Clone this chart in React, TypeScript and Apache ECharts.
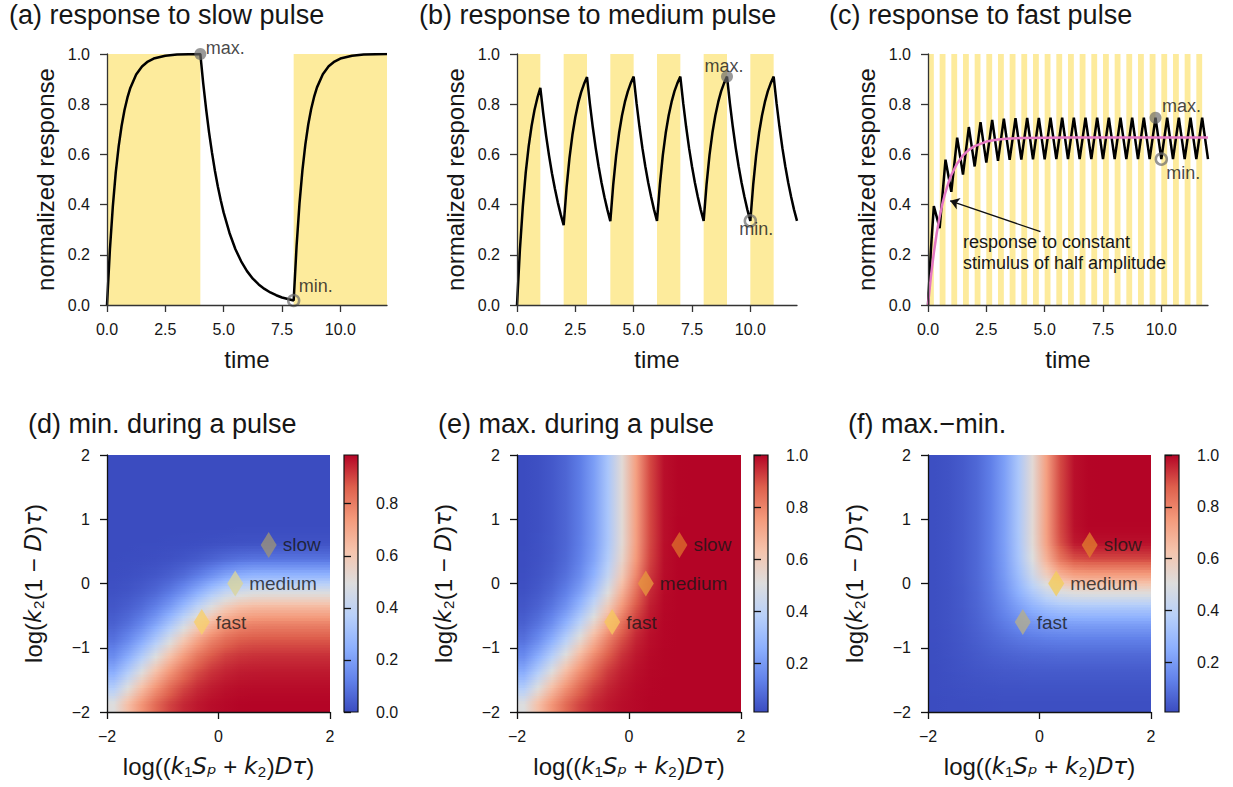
import React, { useEffect, useRef } from 'react';
import * as echarts from 'echarts';

const FONT = "'Liberation Sans', Arial, Helvetica, sans-serif";
const MATH = "'DejaVu Sans', sans-serif";
const YELLOW = '#fdeb9c';

// ---------- top row: pulse trains (on-intervals) ----------
const slowPulses = [[0, 4], [8, 12]];
const mediumPulses = [[0, 1], [2, 3], [4, 5], [6, 7], [8, 9], [10, 11]];
const fastPulses = [[0, 0.25], [0.5, 0.75], [1, 1.25], [1.5, 1.75], [2, 2.25], [2.5, 2.75], [3, 3.25], [3.5, 3.75], [4, 4.25], [4.5, 4.75], [5, 5.25], [5.5, 5.75], [6, 6.25], [6.5, 6.75], [7, 7.25], [7.5, 7.75], [8, 8.25], [8.5, 8.75], [9, 9.25], [9.5, 9.75], [10, 10.25], [10.5, 10.75], [11, 11.25], [11.5, 11.75]];

const timeTicks = [0, 2.5, 5, 7.5, 10];

// ---------- top row: responses [time, normalized response] ----------
const slowResponse = [[0, 0], [0.125, 0.221], [0.25, 0.393], [0.375, 0.528], [0.5, 0.632], [0.625, 0.713], [0.75, 0.777], [0.875, 0.826], [1, 0.865], [1.25, 0.918], [1.5, 0.95], [1.75, 0.97], [2, 0.982], [2.5, 0.993], [3, 0.998], [3.5, 0.999], [4, 1.0], [4.125, 0.882], [4.25, 0.779], [4.375, 0.687], [4.5, 0.607], [4.625, 0.535], [4.75, 0.472], [4.875, 0.417], [5, 0.368], [5.25, 0.287], [5.5, 0.223], [5.75, 0.174], [6, 0.135], [6.25, 0.105], [6.5, 0.082], [6.75, 0.064], [7, 0.05], [7.25, 0.039], [7.5, 0.03], [7.75, 0.024], [8, 0.018], [8.125, 0.235], [8.25, 0.405], [8.375, 0.536], [8.5, 0.639], [8.625, 0.719], [8.75, 0.781], [8.875, 0.829], [9, 0.867], [9.25, 0.919], [9.5, 0.951], [9.75, 0.97], [10, 0.982], [10.5, 0.993], [11, 0.998], [11.5, 0.999], [12, 1.0]];

const mediumResponse = [
  [0, 0], [0.125, 0.221], [0.25, 0.393], [0.375, 0.528], [0.5, 0.632], [0.625, 0.713], [0.75, 0.777], [0.875, 0.826], [1, 0.865],
  [1.125, 0.763], [1.25, 0.673], [1.375, 0.594], [1.5, 0.524], [1.625, 0.463], [1.75, 0.408], [1.875, 0.36], [2, 0.318],
  [2.125, 0.469], [2.25, 0.586], [2.375, 0.678], [2.5, 0.749], [2.625, 0.805], [2.75, 0.848], [2.875, 0.881], [3, 0.908],
  [3.125, 0.801], [3.25, 0.707], [3.375, 0.624], [3.5, 0.551], [3.625, 0.486], [3.75, 0.429], [3.875, 0.379], [4, 0.334],
  [4.125, 0.481], [4.25, 0.596], [4.375, 0.685], [4.5, 0.755], [4.625, 0.809], [4.75, 0.851], [4.875, 0.884], [5, 0.91],
  [5.125, 0.803], [5.25, 0.709], [5.375, 0.625], [5.5, 0.552], [5.625, 0.487], [5.75, 0.43], [5.875, 0.379], [6, 0.335],
  [6.125, 0.482], [6.25, 0.597], [6.375, 0.686], [6.5, 0.755], [6.625, 0.809], [6.75, 0.852], [6.875, 0.884], [7, 0.91],
  [7.125, 0.803], [7.25, 0.709], [7.375, 0.625], [7.5, 0.552], [7.625, 0.487], [7.75, 0.43], [7.875, 0.379], [8, 0.335],
  [8.125, 0.482], [8.25, 0.597], [8.375, 0.686], [8.5, 0.755], [8.625, 0.809], [8.75, 0.852], [8.875, 0.884], [9, 0.91],
  [9.125, 0.803], [9.25, 0.709], [9.375, 0.625], [9.5, 0.552], [9.625, 0.487], [9.75, 0.43], [9.875, 0.379], [10, 0.335],
  [10.125, 0.482], [10.25, 0.597], [10.375, 0.686], [10.5, 0.755], [10.625, 0.809], [10.75, 0.852], [10.875, 0.884], [11, 0.91],
  [11.125, 0.803], [11.25, 0.709], [11.375, 0.625], [11.5, 0.552], [11.625, 0.487], [11.75, 0.43], [11.875, 0.379], [12, 0.335],
];

const fastResponse = [[0, 0], [0.125, 0.221], [0.25, 0.394], [0.5, 0.306], [0.75, 0.579], [1, 0.451], [1.25, 0.667], [1.5, 0.52], [1.75, 0.709], [2, 0.552], [2.25, 0.728], [2.5, 0.567], [2.75, 0.737], [3, 0.574], [3.25, 0.742], [3.5, 0.578], [3.75, 0.744], [4, 0.579], [4.25, 0.745], [4.5, 0.58], [4.75, 0.745], [5, 0.58], [5.25, 0.746], [5.5, 0.581], [5.75, 0.746], [6, 0.581], [6.25, 0.746], [6.5, 0.581], [6.75, 0.746], [7, 0.581], [7.25, 0.746], [7.5, 0.581], [7.75, 0.746], [8, 0.581], [8.25, 0.746], [8.5, 0.581], [8.75, 0.746], [9, 0.581], [9.25, 0.746], [9.5, 0.581], [9.75, 0.746], [10, 0.581], [10.25, 0.746], [10.5, 0.581], [10.75, 0.746], [11, 0.581], [11.25, 0.746], [11.5, 0.581], [11.75, 0.746], [12, 0.581]];

const halfConstantResponse = [[0, 0], [0.125, 0.114], [0.25, 0.208], [0.375, 0.287], [0.5, 0.352], [0.625, 0.406], [0.75, 0.45], [0.875, 0.487], [1, 0.518], [1.25, 0.564], [1.5, 0.596], [1.75, 0.618], [2, 0.633], [2.5, 0.651], [3, 0.659], [3.5, 0.663], [4, 0.665], [5, 0.666], [6, 0.667], [12, 0.667]];

const slowMax = [4, 1.0];
const slowMin = [8, 0.018];
const mediumMax = [9, 0.91];
const mediumMin = [10, 0.335];
const fastMax = [9.75, 0.746];
const fastMin = [10, 0.581];

const arrowTail = [4.82, 0.292];
const arrowHead = [0.95, 0.415];

// ---------- bottom row: heat maps (cell centres, rows listed top to bottom) ----------
const heatX = [-1.875, -1.625, -1.375, -1.125, -0.875, -0.625, -0.375, -0.125, 0.125, 0.375, 0.625, 0.875, 1.125, 1.375, 1.625, 1.875];
const heatY = [1.875, 1.625, 1.375, 1.125, 0.875, 0.625, 0.375, 0.125, -0.125, -0.375, -0.625, -0.875, -1.125, -1.375, -1.625, -1.875];

const minDuringPulse = [
  [0, 0, 0, 0, 0, 0, 0, 0, 0, 0, 0, 0, 0, 0, 0, 0],
  [0, 0, 0, 0, 0, 0, 0, 0, 0, 0, 0, 0, 0, 0, 0, 0],
  [0, 0, 0, 0, 0, 0, 0, 0, 0, 0, 0, 0, 0, 0, 0, 0],
  [0, 0, 0, 0, 0, 0, 0, 0, 0, 0, 0, 0, 0, 0, 0, 0],
  [0, 0, 0, 0, 0, 0, 0, 0, 0, 0.001, 0.001, 0.001, 0.001, 0.001, 0.001, 0.001],
  [0, 0, 0.001, 0.001, 0.002, 0.003, 0.005, 0.008, 0.011, 0.013, 0.014, 0.015, 0.015, 0.015, 0.015, 0.015],
  [0.001, 0.002, 0.004, 0.007, 0.013, 0.021, 0.034, 0.052, 0.071, 0.085, 0.092, 0.093, 0.093, 0.093, 0.093, 0.093],
  [0.005, 0.008, 0.015, 0.025, 0.043, 0.07, 0.11, 0.159, 0.209, 0.245, 0.261, 0.264, 0.264, 0.264, 0.264, 0.264],
  [0.012, 0.02, 0.036, 0.061, 0.101, 0.159, 0.236, 0.321, 0.397, 0.448, 0.469, 0.472, 0.472, 0.472, 0.472, 0.472],
  [0.025, 0.043, 0.073, 0.121, 0.192, 0.287, 0.396, 0.501, 0.584, 0.634, 0.653, 0.656, 0.656, 0.656, 0.656, 0.656],
  [0.047, 0.08, 0.133, 0.212, 0.318, 0.441, 0.562, 0.663, 0.734, 0.772, 0.787, 0.789, 0.789, 0.789, 0.789, 0.789],
  [0.085, 0.141, 0.224, 0.336, 0.466, 0.597, 0.707, 0.787, 0.837, 0.864, 0.873, 0.875, 0.875, 0.875, 0.875, 0.875],
  [0.146, 0.231, 0.347, 0.482, 0.616, 0.731, 0.816, 0.871, 0.905, 0.921, 0.927, 0.928, 0.928, 0.928, 0.928, 0.928],
  [0.236, 0.352, 0.49, 0.626, 0.744, 0.83, 0.889, 0.924, 0.944, 0.955, 0.958, 0.959, 0.959, 0.959, 0.959, 0.959],
  [0.356, 0.494, 0.633, 0.751, 0.839, 0.898, 0.935, 0.956, 0.969, 0.975, 0.977, 0.977, 0.977, 0.977, 0.977, 0.977],
  [0.496, 0.634, 0.754, 0.843, 0.903, 0.94, 0.962, 0.975, 0.982, 0.986, 0.987, 0.987, 0.987, 0.987, 0.987, 0.987],
];

const maxDuringPulse = [
  [0.013, 0.023, 0.041, 0.072, 0.125, 0.211, 0.344, 0.528, 0.736, 0.907, 0.985, 0.999, 1, 1, 1, 1],
  [0.013, 0.023, 0.041, 0.072, 0.125, 0.211, 0.344, 0.528, 0.736, 0.907, 0.985, 0.999, 1, 1, 1, 1],
  [0.013, 0.023, 0.041, 0.072, 0.125, 0.211, 0.344, 0.528, 0.736, 0.907, 0.985, 0.999, 1, 1, 1, 1],
  [0.013, 0.023, 0.041, 0.072, 0.125, 0.211, 0.344, 0.528, 0.736, 0.907, 0.985, 0.999, 1, 1, 1, 1],
  [0.013, 0.023, 0.041, 0.072, 0.125, 0.211, 0.344, 0.528, 0.737, 0.907, 0.985, 1, 1, 1, 1, 1],
  [0.014, 0.024, 0.042, 0.073, 0.127, 0.214, 0.347, 0.531, 0.739, 0.908, 0.986, 1, 1, 1, 1, 1],
  [0.015, 0.026, 0.045, 0.079, 0.136, 0.228, 0.367, 0.552, 0.755, 0.915, 0.987, 1, 1, 1, 1, 1],
  [0.018, 0.032, 0.055, 0.096, 0.162, 0.267, 0.416, 0.603, 0.791, 0.93, 0.989, 1, 1, 1, 1, 1],
  [0.025, 0.043, 0.076, 0.129, 0.213, 0.336, 0.499, 0.679, 0.841, 0.949, 0.992, 1, 1, 1, 1, 1],
  [0.038, 0.065, 0.111, 0.184, 0.293, 0.437, 0.604, 0.764, 0.89, 0.966, 0.995, 1, 1, 1, 1, 1],
  [0.06, 0.102, 0.169, 0.269, 0.403, 0.559, 0.713, 0.841, 0.93, 0.979, 0.997, 1, 1, 1, 1, 1],
  [0.097, 0.161, 0.256, 0.384, 0.533, 0.682, 0.808, 0.899, 0.957, 0.987, 0.998, 1, 1, 1, 1, 1],
  [0.157, 0.249, 0.374, 0.519, 0.664, 0.788, 0.879, 0.939, 0.975, 0.993, 0.999, 1, 1, 1, 1, 1],
  [0.246, 0.367, 0.511, 0.653, 0.776, 0.866, 0.927, 0.964, 0.985, 0.996, 0.999, 1, 1, 1, 1, 1],
  [0.365, 0.506, 0.648, 0.769, 0.859, 0.92, 0.957, 0.979, 0.992, 0.998, 1, 1, 1, 1, 1, 1],
  [0.503, 0.643, 0.764, 0.854, 0.915, 0.953, 0.975, 0.988, 0.995, 0.999, 1, 1, 1, 1, 1, 1],
];

const maxMinusMin = [
  [0.013, 0.023, 0.041, 0.072, 0.125, 0.211, 0.344, 0.528, 0.736, 0.907, 0.985, 0.999, 1, 1, 1, 1],
  [0.013, 0.023, 0.041, 0.072, 0.125, 0.211, 0.344, 0.528, 0.736, 0.907, 0.985, 0.999, 1, 1, 1, 1],
  [0.013, 0.023, 0.041, 0.072, 0.125, 0.211, 0.344, 0.528, 0.736, 0.907, 0.985, 0.999, 1, 1, 1, 1],
  [0.013, 0.023, 0.041, 0.072, 0.125, 0.211, 0.344, 0.528, 0.736, 0.907, 0.985, 0.999, 1, 1, 1, 1],
  [0.013, 0.023, 0.041, 0.072, 0.125, 0.211, 0.344, 0.528, 0.737, 0.906, 0.984, 0.999, 0.999, 0.999, 0.999, 0.999],
  [0.013, 0.024, 0.041, 0.072, 0.125, 0.211, 0.342, 0.523, 0.728, 0.895, 0.972, 0.985, 0.985, 0.985, 0.985, 0.985],
  [0.014, 0.024, 0.041, 0.072, 0.123, 0.207, 0.333, 0.5, 0.684, 0.829, 0.895, 0.906, 0.907, 0.907, 0.907, 0.907],
  [0.013, 0.024, 0.041, 0.071, 0.119, 0.197, 0.306, 0.444, 0.582, 0.684, 0.728, 0.736, 0.736, 0.736, 0.736, 0.736],
  [0.013, 0.023, 0.04, 0.068, 0.112, 0.177, 0.263, 0.358, 0.444, 0.5, 0.523, 0.527, 0.528, 0.528, 0.528, 0.528],
  [0.013, 0.022, 0.038, 0.063, 0.101, 0.15, 0.208, 0.263, 0.306, 0.332, 0.342, 0.344, 0.344, 0.344, 0.344, 0.344],
  [0.013, 0.022, 0.036, 0.057, 0.085, 0.118, 0.151, 0.178, 0.196, 0.207, 0.21, 0.211, 0.211, 0.211, 0.211, 0.211],
  [0.012, 0.02, 0.032, 0.048, 0.067, 0.085, 0.101, 0.112, 0.12, 0.123, 0.125, 0.125, 0.125, 0.125, 0.125, 0.125],
  [0.011, 0.018, 0.027, 0.037, 0.048, 0.057, 0.063, 0.068, 0.07, 0.072, 0.072, 0.072, 0.072, 0.072, 0.072, 0.072],
  [0.01, 0.015, 0.021, 0.027, 0.032, 0.036, 0.038, 0.04, 0.041, 0.041, 0.041, 0.041, 0.041, 0.041, 0.041, 0.041],
  [0.009, 0.012, 0.015, 0.018, 0.02, 0.022, 0.022, 0.023, 0.023, 0.023, 0.023, 0.023, 0.023, 0.023, 0.023, 0.023],
  [0.007, 0.009, 0.01, 0.011, 0.012, 0.013, 0.013, 0.013, 0.013, 0.013, 0.013, 0.013, 0.013, 0.013, 0.013, 0.013],
];

const colorRanges = [[0, 0.987], [0.013, 1.0], [0.007, 1.0]];
const colorbarTicks = [[0, 0.2, 0.4, 0.6, 0.8], [0.2, 0.4, 0.6, 0.8, 1.0], [0.2, 0.4, 0.6, 0.8, 1.0]];

const regimeNames = ['slow', 'medium', 'fast'];
const regimeX = [0.9, 0.3, -0.3];
const regimeY = [0.6, 0.0, -0.6];
const regimeColors = [
  ['#9b927a', '#d9d49c', '#f7ce6c'],
  ['#dc6b2c', '#e6953f', '#f6c55f'],
  ['#e07a2e', '#f3cd5e', '#b4ae8e'],
];

const topTitles = ['(a) response to slow pulse', '(b) response to medium pulse', '(c) response to fast pulse'];
const bottomTitles = ['(d) min. during a pulse', '(e) max. during a pulse', '(f) max.\u2212min.'];

// coolwarm colormap anchors
const COOLWARM = [[59, 76, 192], [98, 130, 234], [141, 176, 254], [184, 208, 249], [221, 221, 221], [245, 196, 173], [244, 154, 123], [222, 96, 77], [180, 4, 38]];

function coolwarm(t: number): string {
  const tt = Math.max(0, Math.min(1, t));
  const s = tt * (COOLWARM.length - 1);
  const i = Math.min(COOLWARM.length - 2, Math.floor(s));
  const f = s - i;
  const a = COOLWARM[i];
  const b = COOLWARM[i + 1];
  const c = a.map((v, k) => Math.round(v + (b[k] - v) * f));
  return `rgb(${c[0]},${c[1]},${c[2]})`;
}

const TOP_GRIDS = [
  { left: 107, top: 54, width: 280, height: 251 },
  { left: 517, top: 54, width: 280, height: 251 },
  { left: 928, top: 54, width: 280, height: 251 },
];
const HEAT_GRIDS = [
  { left: 107, top: 455, width: 223, height: 257 },
  { left: 517, top: 455, width: 224, height: 257 },
  { left: 928, top: 455, width: 223, height: 257 },
];
const BAR_GRIDS = [
  { left: 344, top: 455, width: 14, height: 257 },
  { left: 754, top: 455, width: 14, height: 257 },
  { left: 1165, top: 455, width: 14, height: 257 },
];

const AXIS_COLOR = '#333';
const TEXT_COLOR = '#161616';
const minusFmt = (v: number) => (v < 0 ? '\u2212' + Math.abs(v) : String(v));

function buildOption() {
  const grid: any[] = [];
  const xAxis: any[] = [];
  const yAxis: any[] = [];
  const series: any[] = [];

  TOP_GRIDS.forEach((g) => grid.push({ ...g, containLabel: false }));
  HEAT_GRIDS.forEach((g) => grid.push({ ...g, containLabel: false }));
  BAR_GRIDS.forEach((g) => grid.push({ ...g, containLabel: false }));

  // top axes
  for (let k = 0; k < 3; k++) {
    xAxis.push({
      gridIndex: k, type: 'value', min: 0, max: 12, z: 10,
      axisLine: { show: true, onZero: false, lineStyle: { color: AXIS_COLOR, width: 1.3 } },
      axisTick: { show: true, length: 7, customValues: timeTicks, lineStyle: { color: AXIS_COLOR, width: 1.3 } },
      axisLabel: { customValues: timeTicks, formatter: (v: number) => v.toFixed(1), fontSize: 16, color: TEXT_COLOR, fontFamily: FONT, margin: 16 },
      splitLine: { show: false },
      name: 'time', nameLocation: 'middle', nameGap: 42,
      nameTextStyle: { fontSize: 24, color: TEXT_COLOR, fontFamily: FONT },
    });
    yAxis.push({
      gridIndex: k, type: 'value', min: 0, max: 1, interval: 0.2, z: 10,
      axisLine: { show: true, onZero: false, lineStyle: { color: AXIS_COLOR, width: 1.3 } },
      axisTick: { show: true, length: 7, lineStyle: { color: AXIS_COLOR, width: 1.3 } },
      axisLabel: { formatter: (v: number) => v.toFixed(1), fontSize: 16, color: TEXT_COLOR, fontFamily: FONT, margin: 17 },
      splitLine: { show: false },
      name: 'normalized response', nameLocation: 'middle', nameGap: 50, nameRotate: 90,
      nameTextStyle: { fontSize: 24, color: TEXT_COLOR, fontFamily: FONT },
    });
  }

  // heat axes
  const richI = { i: { fontStyle: 'italic', fontFamily: MATH, fontSize: 23, color: TEXT_COLOR } };
  for (let p = 0; p < 3; p++) {
    xAxis.push({
      gridIndex: 3 + p, type: 'value', min: -2, max: 2, interval: 2, z: 10,
      axisLine: { show: true, onZero: false, lineStyle: { color: '#111', width: 1.3 } },
      axisTick: { show: true, length: 7, lineStyle: { color: '#111', width: 1.3 } },
      axisLabel: { formatter: minusFmt, fontSize: 16, color: TEXT_COLOR, fontFamily: FONT, margin: 16 },
      splitLine: { show: false },
      name: 'log(({i|k}\u2081{i|S}{i|\u209a} + {i|k}\u2082){i|D}{i|\u03c4})', nameLocation: 'middle', nameGap: 42,
      nameTextStyle: { fontSize: 24, color: TEXT_COLOR, fontFamily: FONT, rich: richI },
    });
    yAxis.push({
      gridIndex: 3 + p, type: 'value', min: -2, max: 2, interval: 1, z: 10,
      axisLine: { show: true, onZero: false, lineStyle: { color: '#111', width: 1.3 } },
      axisTick: { show: true, length: 7, lineStyle: { color: '#111', width: 1.3 } },
      axisLabel: { formatter: minusFmt, fontSize: 16, color: TEXT_COLOR, fontFamily: FONT, margin: 17 },
      splitLine: { show: false },
      name: 'log({i|k}\u2082(1 \u2212 {i|D}){i|\u03c4})', nameLocation: 'middle', nameGap: 62, nameRotate: 90,
      nameTextStyle: { fontSize: 24, color: TEXT_COLOR, fontFamily: FONT, rich: richI },
    });
  }

  // colorbar axes
  for (let p = 0; p < 3; p++) {
    const [vmin, vmax] = colorRanges[p];
    xAxis.push({ gridIndex: 6 + p, type: 'value', min: 0, max: 1, show: false });
    yAxis.push({
      gridIndex: 6 + p, type: 'value', min: vmin, max: vmax, position: 'right', z: 10,
      axisLine: { show: false },
      axisTick: { show: true, length: 7, customValues: colorbarTicks[p], lineStyle: { color: '#111', width: 1.3 } },
      axisLabel: { customValues: colorbarTicks[p], formatter: (v: number) => v.toFixed(1), fontSize: 16, color: TEXT_COLOR, fontFamily: FONT, margin: 18 },
      splitLine: { show: false },
    });
  }

  // top series
  const pulses = [slowPulses, mediumPulses, fastPulses];
  const responses = [slowResponse, mediumResponse, fastResponse];
  const maxPts = [slowMax, mediumMax, fastMax];
  const minPts = [slowMin, mediumMin, fastMin];
  const maxOffsets = [[25, -6], [-3, -11], [26, -12]];
  const minOffsets = [[22, -14], [6, 8], [22, 14]];
  for (let k = 0; k < 3; k++) {
    series.push({
      type: 'line', xAxisIndex: k, yAxisIndex: k, data: responses[k], showSymbol: false, symbol: 'none',
      lineStyle: { color: '#000', width: 2.5 }, z: 3, silent: true,
      markArea: {
        silent: true, itemStyle: { color: YELLOW, opacity: 1 },
        data: pulses[k].map(([a, b]) => [{ xAxis: a }, { xAxis: b }]),
      },
    });
    series.push({
      type: 'scatter', xAxisIndex: k, yAxisIndex: k, data: [maxPts[k]], symbol: 'circle', symbolSize: 12, z: 6, silent: true,
      itemStyle: { color: 'rgba(105,105,105,0.85)' },
      label: { show: true, formatter: 'max.', position: 'inside', offset: maxOffsets[k], fontSize: 18, color: TEXT_COLOR, fontFamily: FONT },
    });
    series.push({
      type: 'scatter', xAxisIndex: k, yAxisIndex: k, data: [minPts[k]], symbol: 'circle', symbolSize: 11, z: 6, silent: true,
      itemStyle: { color: 'rgba(255,255,255,0)', borderColor: 'rgba(110,110,110,0.9)', borderWidth: 2.5 },
      label: { show: true, formatter: 'min.', position: 'inside', offset: minOffsets[k], fontSize: 18, color: TEXT_COLOR, fontFamily: FONT },
    });
  }
  series.push({
    type: 'line', xAxisIndex: 2, yAxisIndex: 2, data: halfConstantResponse, showSymbol: false, symbol: 'none',
    lineStyle: { color: '#e377c2', width: 2.5 }, z: 4, silent: true,
    markLine: {
      silent: true, symbol: ['none', 'arrow'], symbolSize: 9,
      label: { show: false },
      lineStyle: { color: '#111', width: 1.3, type: 'solid' },
      data: [[{ coord: arrowTail }, { coord: arrowHead }]],
    },
  });

  // heat maps: each row of cells drawn as thin strips; colours blend smoothly between neighbouring cells
  const tables = [minDuringPulse, maxDuringPulse, maxMinusMin];
  const HALF = 0.125;
  const SUB = 6;
  for (let p = 0; p < 3; p++) {
    const table = tables[p];
    const [vmin, vmax] = colorRanges[p];
    const norm = (v: number) => (v - vmin) / (vmax - vmin);
    series.push({
      type: 'custom', xAxisIndex: 3 + p, yAxisIndex: 3 + p, silent: true, z: 2,
      data: heatY.map((y, j) => [0, y, j]),
      encode: { x: 0, y: 1 },
      renderItem: (params: any, api: any) => {
        const j = api.value(2);
        const yc = api.value(1);
        const row = table[j];
        const n = row.length;
        const last = j === table.length - 1;
        const children: any[] = [];
        for (let s = 0; s < SUB; s++) {
          const d0 = HALF - (s * 2 * HALF) / SUB;
          const d1 = HALF - ((s + 1) * 2 * HALF) / SUB;
          const dc = (d0 + d1) / 2;
          const nbIdx = dc > 0 ? j - 1 : j + 1;
          const nb = table[nbIdx];
          const w = nb ? Math.abs(dc) / (2 * HALF) : 0;
          const nbRow = nb || row;
          const stops = row.map((v: number, i: number) => ({ offset: (i + 0.5) / n, color: coolwarm(norm(v + (nbRow[i] - v) * w)) }));
          const p0 = api.coord([-2, yc + d0]);
          const p1 = api.coord([2, yc + d1]);
          const extra = last && s === SUB - 1 ? 0 : 1.2;
          children.push({
            type: 'rect',
            shape: { x: p0[0], y: p0[1], width: p1[0] - p0[0], height: p1[1] - p0[1] + extra },
            style: { fill: new echarts.graphic.LinearGradient(0, 0, 1, 0, stops) },
          });
        }
        return { type: 'group', children };
      },
    });
    series.push({
      type: 'scatter', xAxisIndex: 3 + p, yAxisIndex: 3 + p, z: 6, silent: true,
      symbol: 'diamond', symbolSize: [16, 26],
      data: regimeNames.map((nm, i) => ({ value: [regimeX[i], regimeY[i]], name: nm, itemStyle: { color: regimeColors[p][i] } })),
      label: { show: true, position: 'right', distance: 6, formatter: '{b}', fontSize: 19, color: TEXT_COLOR, fontFamily: FONT },
    });
    // colorbar
    series.push({
      type: 'custom', xAxisIndex: 6 + p, yAxisIndex: 6 + p, silent: true, z: 2,
      data: [[0, vmin, 1, vmax]],
      encode: { x: 0, y: 1 },
      renderItem: (params: any, api: any) => {
        const p0 = api.coord([0, api.value(3)]);
        const p1 = api.coord([1, api.value(1)]);
        const stops = COOLWARM.map((c, i) => ({ offset: 1 - i / (COOLWARM.length - 1), color: `rgb(${c[0]},${c[1]},${c[2]})` })).reverse();
        return {
          type: 'rect',
          shape: { x: p0[0], y: p0[1], width: p1[0] - p0[0], height: p1[1] - p0[1] },
          style: { fill: new echarts.graphic.LinearGradient(0, 0, 0, 1, stops), stroke: '#111', lineWidth: 1.2 },
        };
      },
    });
  }

  const title: any[] = [];
  const topLefts = [9, 419, 829];
  const botLefts = [28, 438, 848];
  for (let k = 0; k < 3; k++) {
    title.push({ text: topTitles[k], left: topLefts[k], top: 1, padding: 0, textStyle: { fontSize: 27, fontWeight: 'normal', color: TEXT_COLOR, fontFamily: FONT } });
    title.push({ text: bottomTitles[k], left: botLefts[k], top: 410, padding: 0, textStyle: { fontSize: 27, fontWeight: 'normal', color: TEXT_COLOR, fontFamily: FONT } });
  }

  return {
    animation: false,
    backgroundColor: '#fff',
    textStyle: { fontFamily: FONT },
    title,
    grid,
    xAxis,
    yAxis,
    series,
    graphic: [
      {
        type: 'text', left: 963, top: 231, z: 20,
        style: { text: 'response to constant\nstimulus of half amplitude', fontSize: 18, lineHeight: 21, fill: TEXT_COLOR, fontFamily: FONT },
      },
    ],
  };
}

export default function App() {
  const ref = useRef<HTMLDivElement>(null);
  useEffect(() => {
    const chart = echarts.init(ref.current as HTMLDivElement, null, { renderer: 'svg' });
    chart.setOption(buildOption() as any);
    return () => chart.dispose();
  }, []);
  return <div ref={ref} style={{ position: 'fixed', left: 0, top: 0, width: 1233, height: 787, background: '#fff' }} />;
}
